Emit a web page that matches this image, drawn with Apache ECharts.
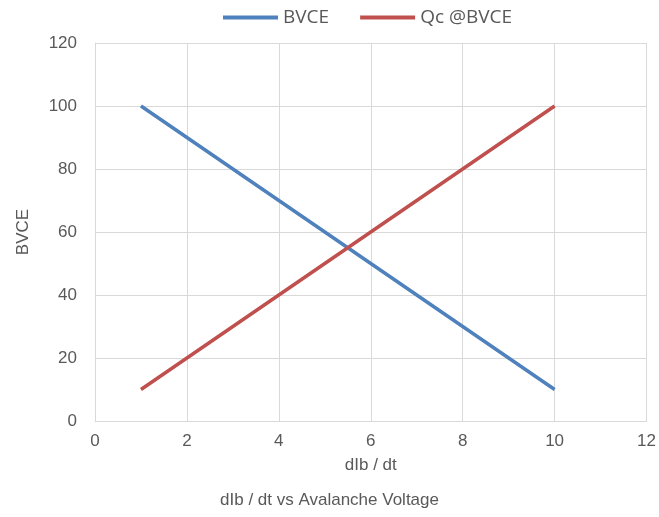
<!DOCTYPE html>
<html><head><meta charset="utf-8">
<script src="https://cdn.jsdelivr.net/npm/echarts@6/dist/echarts.min.js"></script>
<style>html,body{margin:0;padding:0;background:#fff}#c{width:659px;height:517px}</style>
</head><body><div id="c"></div>
<script>
const xValues = [1,2,3,4,5,6,7,8,9,10];
const bvce = [100,90,80,70,60,50,40,30,20,10];
const qc = [10,20,30,40,50,60,70,80,90,100];
const seriesNames = ['BVCE','Qc @BVCE'];
const titleText = 'dIb / dt vs Avalanche Voltage';
const xName = 'dIb / dt';
const yName = 'BVCE';

const font = 'Liberation Sans, Arial, sans-serif';
const txt = '#595959';
const chart = echarts.init(document.getElementById('c'));
chart.setOption({
  animation:false,
  title:{text:titleText, left:'center', top:487, textStyle:{fontFamily:font, fontSize:17, fontWeight:'normal', color:txt}},
  legend:{top:3, left:218, itemWidth:55, itemHeight:4, itemGap:31, icon:'path://M0,0 L55,0 L55,4 L0,4 Z',
    textStyle:{fontFamily:'Open Sans, sans-serif', fontSize:19, color:txt}, data:seriesNames},
  grid:{left:95, right:12, top:43, bottom:96},
  xAxis:{type:'value', min:0, max:12, interval:2, name:xName, nameLocation:'middle', nameGap:36,
    nameTextStyle:{fontFamily:font, fontSize:17, color:txt},
    axisLine:{lineStyle:{color:'#d9d9d9'}}, axisTick:{show:false},
    axisLabel:{fontFamily:font, fontSize:17, color:txt, margin:12},
    splitLine:{lineStyle:{color:'#d9d9d9', width:1}}},
  yAxis:{type:'value', min:0, max:120, interval:20, name:yName, nameLocation:'middle', nameGap:63,
    nameTextStyle:{fontFamily:font, fontSize:17, color:txt},
    axisLine:{show:true, lineStyle:{color:'#d9d9d9'}}, axisTick:{show:false},
    axisLabel:{fontFamily:font, fontSize:17, color:txt, margin:18},
    splitLine:{lineStyle:{color:'#d9d9d9', width:1}}},
  series:[
    {name:seriesNames[0], type:'line', data:xValues.map((x,i)=>[x,bvce[i]]), showSymbol:false, symbol:'none',
     lineStyle:{color:'#4F81BD', width:3.5}, itemStyle:{color:'#4F81BD'}},
    {name:seriesNames[1], type:'line', data:xValues.map((x,i)=>[x,qc[i]]), showSymbol:false, symbol:'none',
     lineStyle:{color:'#C0504D', width:3.5}, itemStyle:{color:'#C0504D'}}
  ]
});
</script></body></html>
